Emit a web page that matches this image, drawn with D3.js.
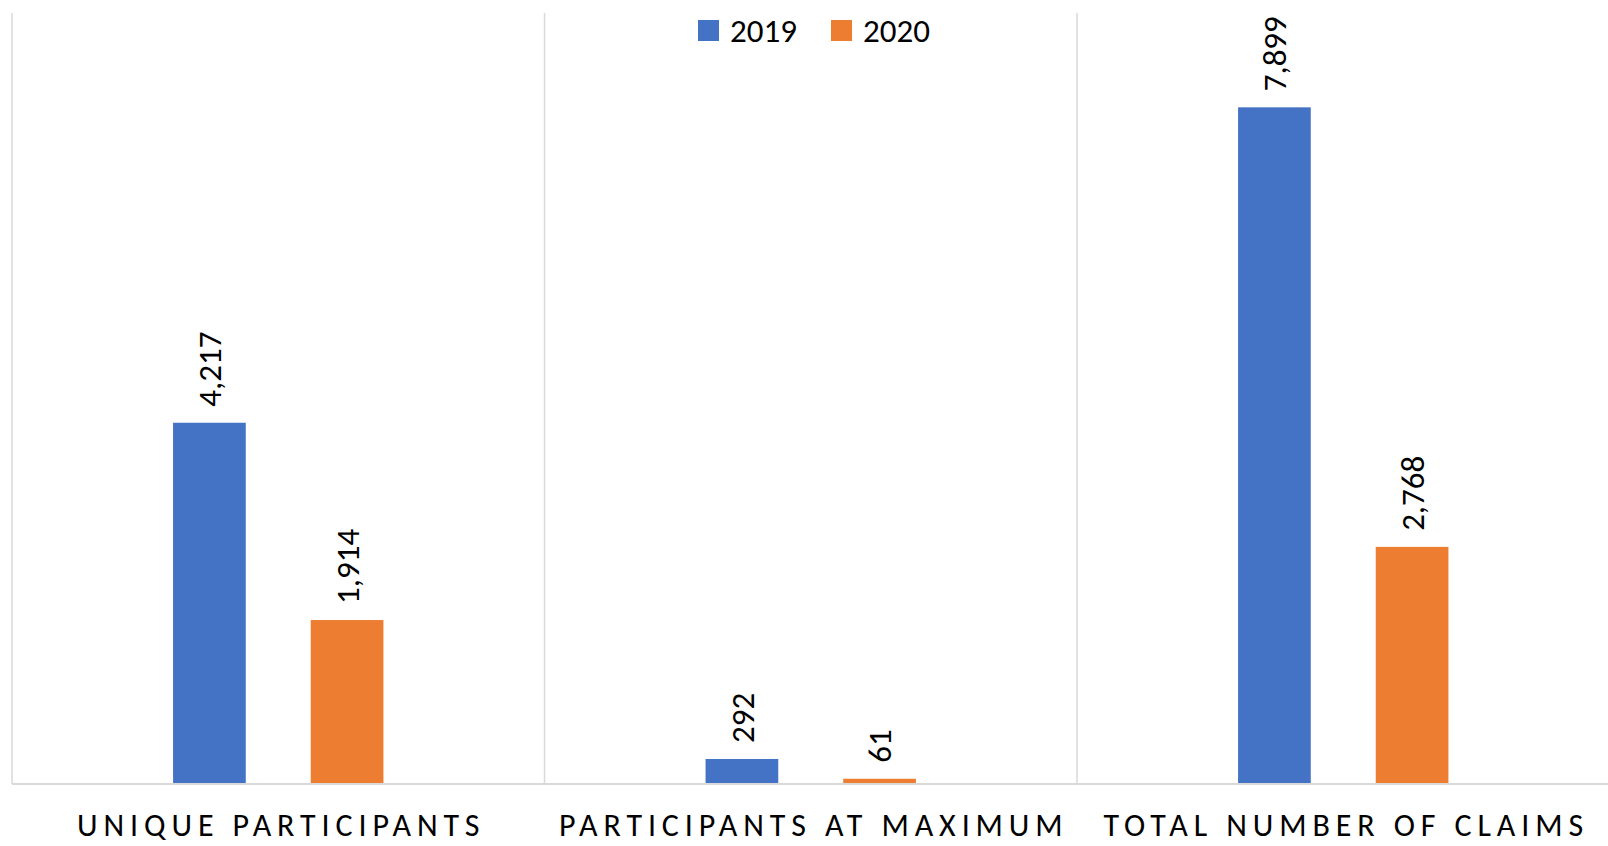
<!DOCTYPE html>
<html>
<head>
<meta charset="utf-8">
<script src="https://cdn.jsdelivr.net/npm/d3@7"></script>
<style>
  html, body { margin: 0; padding: 0; background: #fff; }
  svg { display: block; font-family: Calibri, Carlito, Lato, sans-serif; }
</style>
</head>
<body>
<svg id="chart" width="1608" height="846"></svg>
<script>
"use strict";
// chart data
var categories = ["UNIQUE PARTICIPANTS", "PARTICIPANTS AT MAXIMUM", "TOTAL NUMBER OF CLAIMS"];
var seriesNames = ["2019", "2020"];
var values2019 = [4217, 292, 7899];
var values2020 = [1914, 61, 2768];
var colors = ["#4472C4", "#ED7D31"];

var svg = d3.select("#chart");
var plotLeft = 12, plotRight = 1609.5, plotTop = 13, plotBottom = 784;

var x = d3.scaleBand().domain(categories).range([plotLeft, plotRight]).padding(0);
var xs = d3.scaleBand().domain(seriesNames).range([0, x.bandwidth()])
    .paddingInner(0.472).paddingOuter(1.17);
var y = d3.scaleLinear().domain([0, 9000]).range([plotBottom, plotTop]);

var rows = categories.map(function (c, i) {
    return { cat: c, vals: [values2019[i], values2020[i]] };
});

// vertical dividers between categories
var bounds = categories.map(function (c) { return x(c); });
svg.selectAll("line.divider")
    .data(bounds)
    .enter().append("line")
    .attr("class", "divider")
    .attr("x1", function (d) { return d; })
    .attr("x2", function (d) { return d; })
    .attr("y1", plotTop)
    .attr("y2", plotBottom)
    .style("stroke", "#D9D9D9")
    .style("stroke-width", 1.5);

// bars
var groups = svg.selectAll("g.cat")
    .data(rows)
    .enter().append("g")
    .attr("class", "cat")
    .attr("transform", function (d) { return "translate(" + x(d.cat) + ",0)"; });

groups.selectAll("rect")
    .data(function (d) {
        return d.vals.map(function (v, i) { return { s: seriesNames[i], v: v, i: i }; });
    })
    .enter().append("rect")
    .attr("x", function (d) { return xs(d.s); })
    .attr("y", function (d) { return y(d.v); })
    .attr("width", xs.bandwidth())
    .attr("height", function (d) { return plotBottom - y(d.v); })
    .style("fill", function (d) { return colors[d.i]; });

// data labels, rotated
var fmt = d3.format(",");
groups.selectAll("text.val")
    .data(function (d) {
        return d.vals.map(function (v, i) { return { s: seriesNames[i], v: v }; });
    })
    .enter().append("text")
    .attr("class", "val")
    .attr("transform", function (d) {
        return "translate(" + (xs(d.s) + xs.bandwidth() / 2) + "," + (y(d.v) - 16) + ") rotate(-90)";
    })
    .attr("dy", "0.36em")
    .style("font-size", "33px")
    .style("fill", "#000")
    .text(function (d) { return fmt(d.v); });

// baseline / category axis
var xAxis = d3.axisBottom(x).tickSize(0).tickPadding(0);
var ax = svg.append("g")
    .attr("transform", "translate(0," + plotBottom + ")")
    .call(xAxis);
ax.select(".domain").remove();
ax.selectAll("text")
    .attr("y", 52)
    .attr("dy", 0)
    .attr("dx", 3)
    .style("font-family", "Calibri, Carlito, Lato, sans-serif")
    .style("font-size", "32px")
    .style("letter-spacing", "5.9px")
    .style("fill", "#000");

svg.append("line")
    .attr("x1", plotLeft).attr("x2", plotRight)
    .attr("y1", plotBottom).attr("y2", plotBottom)
    .style("stroke", "#D9D9D9")
    .style("stroke-width", 2);

// legend
var legendX = [698, 831];
var legend = svg.selectAll("g.legend")
    .data(seriesNames)
    .enter().append("g")
    .attr("class", "legend")
    .attr("transform", function (d, i) { return "translate(" + legendX[i] + ",20)"; });
legend.append("rect")
    .attr("width", 21).attr("height", 21)
    .style("fill", function (d, i) { return colors[i]; });
legend.append("text")
    .attr("x", 32).attr("y", 22)
    .style("font-size", "33px")
    .style("fill", "#000")
    .text(function (d) { return d; });
</script>
</body>
</html>
